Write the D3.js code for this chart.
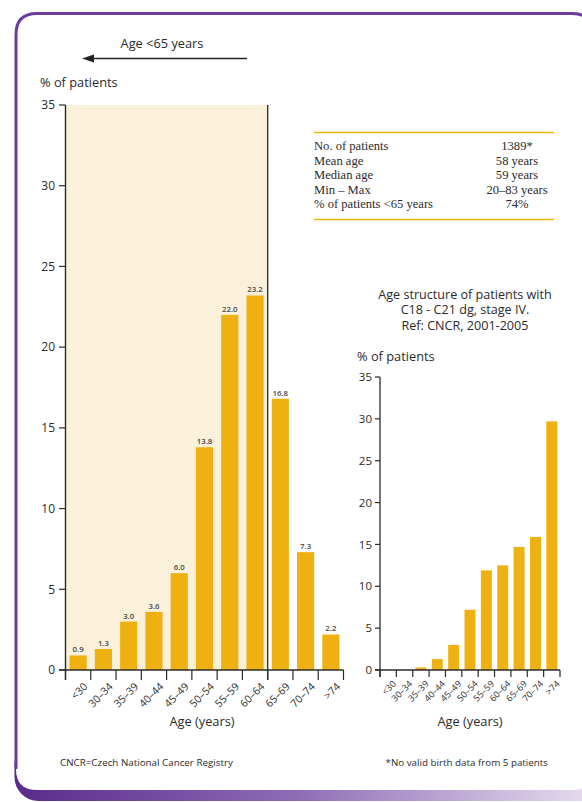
<!DOCTYPE html>
<html><head><meta charset="utf-8">
<script src="https://cdn.jsdelivr.net/npm/d3@7"></script>
<style>
body{margin:0;background:#fff}
svg{display:block}
text{font-family:"Open Sans","Noto Sans",sans-serif;fill:#2b2b2b}
</style>
</head><body><script>
// Age groups and percentage of patients in each group
const ageGroups = ["<30","30–34","35–39","40–44","45–49","50–54","55–59","60–64","65–69","70–74",">74"];
const studyPct = [0.9,1.3,3.0,3.6,6.0,13.8,22.0,23.2,16.8,7.3,2.2];
const registryPct = [0,0,0.3,1.3,3.0,7.2,11.9,12.5,14.7,15.9,29.7];
const yTicks = [0,5,10,15,20,25,30,35];
const under65Groups = ["<30","30–34","35–39","40–44","45–49","50–54","55–59","60–64"];

// Summary table
const statLabels = ["No. of patients","Mean age","Median age","Min – Max","% of patients <65 years"];
const statValues = ["1389*","58 years","59 years","20–83 years","74%"];

const W = 582, H = 802;
const purple = "#6b3d9e", barColor = "#efb112", ink = "#2b2b2b";

const svg = d3.select("body").append("svg").attr("width", W).attr("height", H);
const defs = svg.append("defs");
const grad = defs.append("linearGradient").attr("id","band").attr("x1","0").attr("x2","1").attr("y1","0").attr("y2","0");
grad.append("stop").attr("offset","0").attr("stop-color","#5a2a8c");
grad.append("stop").attr("offset","0.45").attr("stop-color","#8e6bb5");
grad.append("stop").attr("offset","1").attr("stop-color","#f2eef7");

// Page frame: gradient strip along the bottom, white panel with purple outline
svg.append("rect").attr("x",14.5).attr("y",740).attr("width",620).attr("height",61).attr("rx",24).attr("fill","url(#band)");
const px0 = 16, py0 = 13.5, px1 = 593, py1 = 790, r = 21;
svg.append("path")
  .attr("d", `M${px0},${py1-r} L${px0},${py0+r} Q${px0},${py0} ${px0+r},${py0} L${px1-r},${py0} Q${px1},${py0} ${px1},${py0+r} L${px1},${py1-r} Q${px1},${py1} ${px1-r},${py1} L${px0+r},${py1} Q${px0},${py1} ${px0},${py1-r} Z`)
  .attr("fill","#fff");
svg.append("path")
  .attr("d", `M${px0},${py1-r} L${px0},${py0+r} Q${px0},${py0} ${px0+r},${py0} L${px1-r},${py0} Q${px1},${py0} ${px1},${py0+r}`)
  .attr("fill","none").attr("stroke",purple).attr("stroke-width",3);

// ---------- Main chart ----------
const x = d3.scaleBand().domain(ageGroups).range([65.5, 343.5]).padding(0);
const y = d3.scaleLinear().domain([0,35]).range([670,105]);
const barW = x.bandwidth()*0.68;
const main = svg.append("g");

// shaded under-65 region
const shadeX0 = x(under65Groups[0]);
const shadeX1 = x(under65Groups[under65Groups.length-1]) + x.bandwidth();
main.append("rect").attr("x",shadeX0).attr("y",y(35)).attr("width",shadeX1-shadeX0).attr("height",y(0)-y(35)).attr("fill","#fbf0da");

main.selectAll("rect.bar").data(studyPct).join("rect").attr("class","bar")
  .attr("x",(d,i)=>x(ageGroups[i]) + (x.bandwidth()-barW)/2)
  .attr("y",d=>y(d)).attr("width",barW).attr("height",d=>y(0)-y(d)).attr("fill",barColor);

main.selectAll("text.val").data(studyPct).join("text").attr("class","val")
  .attr("x",(d,i)=>x(ageGroups[i]) + x.bandwidth()/2)
  .attr("y",d=>y(d)-3).attr("text-anchor","middle")
  .attr("font-size",7.8).attr("font-weight",600).style("fill","#4a4a4a")
  .text(d3.format(".1f"));

// divider at 65 years
main.append("line").attr("x1",shadeX1).attr("x2",shadeX1).attr("y1",y(35)).attr("y2",y(0)+10).attr("stroke","#333").attr("stroke-width",1.4);

// y axis
main.append("line").attr("x1",x.range()[0]).attr("x2",x.range()[0]).attr("y1",y(35)).attr("y2",y(0)+10).attr("stroke",ink).attr("stroke-width",1.4);
main.selectAll("line.yt").data(yTicks).join("line").attr("class","yt")
  .attr("x1",59).attr("x2",x.range()[0]).attr("y1",d=>y(d)).attr("y2",d=>y(d)).attr("stroke",ink).attr("stroke-width",1.2);
main.selectAll("text.yl").data(yTicks).join("text").attr("class","yl")
  .attr("x",55).attr("y",d=>y(d)).attr("dy","0.36em").attr("text-anchor","end").attr("font-size",12).text(d=>d);

// x axis
main.append("line").attr("x1",59).attr("x2",x.range()[1]).attr("y1",y(0)).attr("y2",y(0)).attr("stroke",ink).attr("stroke-width",1.4);
const bounds = ageGroups.map(g=>x(g)).concat([x.range()[1]]);
main.selectAll("line.xt").data(bounds).join("line").attr("class","xt")
  .attr("x1",d=>d).attr("x2",d=>d).attr("y1",y(0)).attr("y2",y(0)+10).attr("stroke",ink).attr("stroke-width",1.2);
main.selectAll("text.xl").data(ageGroups).join("text").attr("class","xl")
  .attr("transform",g=>`translate(${x(g)+x.bandwidth()/2+5},${y(0)+12}) rotate(-45)`)
  .attr("text-anchor","end").attr("dy","0.7em").attr("font-size",10.5).text(g=>g);

main.append("text").attr("x",202).attr("y",726).attr("text-anchor","middle").attr("font-size",12.8).text("Age (years)");
main.append("text").attr("x",40).attr("y",87).attr("font-size",12.8).text("% of patients");

// "Age <65 years" arrow
main.append("text").attr("x",162).attr("y",48).attr("text-anchor","middle").attr("font-size",12.8).text("Age <65 years");
main.append("line").attr("x1",90).attr("x2",247).attr("y1",58.5).attr("y2",58.5).attr("stroke","#222").attr("stroke-width",1.3);
main.append("path").attr("d","M82,58.5 L94,54.5 L94,62.5 Z").attr("fill","#222");

// ---------- Summary table ----------
const tbl = svg.append("g");
tbl.append("line").attr("x1",314).attr("x2",554).attr("y1",132.5).attr("y2",132.5).attr("stroke","#f2b705").attr("stroke-width",1.4);
tbl.append("line").attr("x1",314).attr("x2",554).attr("y1",219.5).attr("y2",219.5).attr("stroke","#f2b705").attr("stroke-width",1.4);
const rowY = d3.scalePoint().domain(d3.range(statLabels.length)).range([150,208]);
tbl.selectAll("text.sl").data(statLabels).join("text").attr("class","sl")
  .attr("x",314).attr("y",(d,i)=>rowY(i)).attr("font-size",12.6)
  .style("font-family","'Liberation Serif','DejaVu Serif',serif").text(d=>d);
tbl.selectAll("text.sv").data(statValues).join("text").attr("class","sv")
  .attr("x",517).attr("y",(d,i)=>rowY(i)).attr("text-anchor","middle").attr("font-size",12.6)
  .style("font-family","'Liberation Serif','DejaVu Serif',serif").text(d=>d);

// ---------- Registry inset chart ----------
const xi = d3.scaleBand().domain(ageGroups).range([380, 560]).padding(0);
const yi = d3.scaleLinear().domain([0,35]).range([670,377]);
const barWi = xi.bandwidth()*0.67;
const ins = svg.append("g");

const titleLines = ["Age structure of patients with","C18 - C21 dg, stage IV.","Ref: CNCR, 2001-2005"];
ins.selectAll("text.tt").data(titleLines).join("text").attr("class","tt")
  .attr("x",465).attr("y",(d,i)=>298.5+i*15.5).attr("text-anchor","middle").attr("font-size",12.6).text(d=>d);
ins.append("text").attr("x",357).attr("y",361).attr("font-size",12.8).text("% of patients");

ins.selectAll("rect.bar").data(registryPct).join("rect").attr("class","bar")
  .attr("x",(d,i)=>xi(ageGroups[i]) + (xi.bandwidth()-barWi)/2)
  .attr("y",d=>yi(d)).attr("width",barWi).attr("height",d=>yi(0)-yi(d)).attr("fill",barColor);

ins.append("line").attr("x1",380).attr("x2",380).attr("y1",yi(35)).attr("y2",yi(0)+7).attr("stroke",ink).attr("stroke-width",1.3);
ins.selectAll("line.yt").data(yTicks).join("line").attr("class","yt")
  .attr("x1",375).attr("x2",380).attr("y1",d=>yi(d)).attr("y2",d=>yi(d)).attr("stroke",ink).attr("stroke-width",1.2);
ins.selectAll("text.yl").data(yTicks).join("text").attr("class","yl")
  .attr("x",372).attr("y",d=>yi(d)).attr("dy","0.36em").attr("text-anchor","end").attr("font-size",11.5).text(d=>d);

ins.append("line").attr("x1",375).attr("x2",560).attr("y1",yi(0)).attr("y2",yi(0)).attr("stroke",ink).attr("stroke-width",1.3);
const boundsI = ageGroups.map(g=>xi(g)).concat([xi.range()[1]]);
ins.selectAll("line.xt").data(boundsI).join("line").attr("class","xt")
  .attr("x1",d=>d).attr("x2",d=>d).attr("y1",yi(0)).attr("y2",yi(0)+7).attr("stroke",ink).attr("stroke-width",1.2);
ins.selectAll("text.xl").data(ageGroups).join("text").attr("class","xl")
  .attr("transform",g=>`translate(${xi(g)+xi.bandwidth()/2+4},${yi(0)+10}) rotate(-45)`)
  .attr("text-anchor","end").attr("dy","0.7em").attr("font-size",9).text(g=>g);
ins.append("text").attr("x",470).attr("y",726).attr("text-anchor","middle").attr("font-size",12.8).text("Age (years)");

// ---------- Footnotes ----------
svg.append("text").attr("x",60).attr("y",765.5).attr("font-size",9.8).text("CNCR=Czech National Cancer Registry");
svg.append("text").attr("x",548).attr("y",765.5).attr("text-anchor","end").attr("font-size",9.8).text("*No valid birth data from 5 patients");
</script></body></html>
